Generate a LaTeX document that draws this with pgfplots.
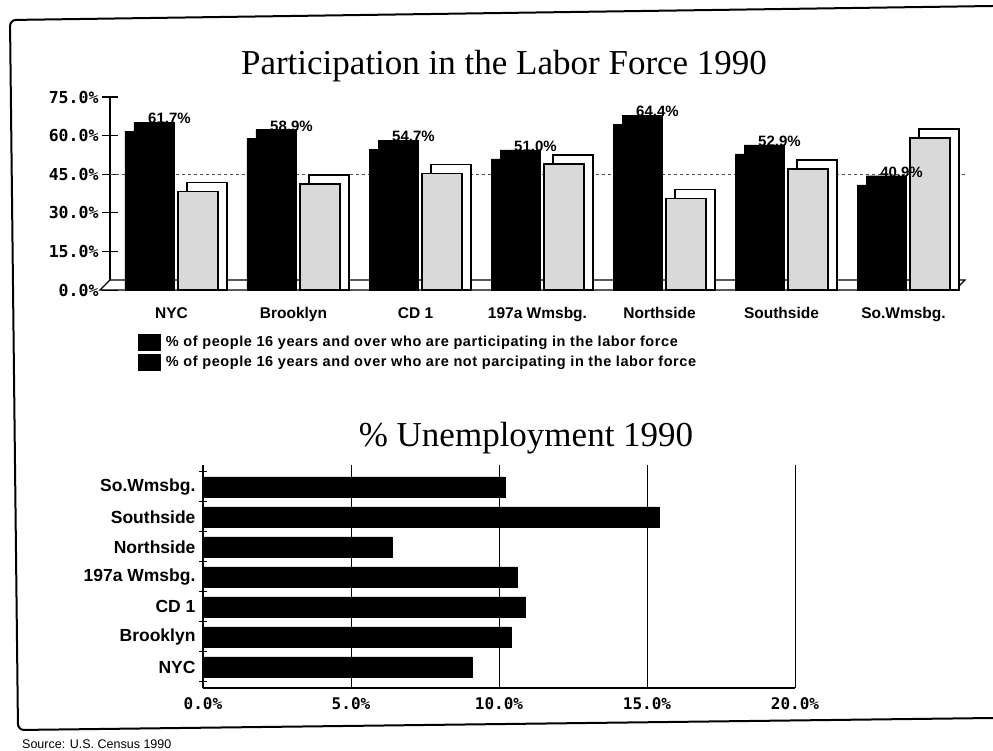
\documentclass[border=0pt]{standalone}
\usepackage{fontspec}
\setmainfont{Liberation Serif}
\newfontfamily\sansf{Liberation Sans}
\newfontfamily\legf{Liberation Sans}[LetterSpace=4]
\newfontfamily\monof{DejaVu Sans Mono}
\usepackage{pgfplots}
\usepackage{pgfplotstable}
\pgfplotsset{compat=1.18}

% participation (p) and non-participation (q), percent
\pgfplotstableread{
x p q
0 61.7 38.3
1 58.9 41.1
2 54.7 45.3
3 51.0 49.0
4 64.4 35.6
5 52.9 47.1
6 40.9 59.1
}\labor

% unemployment, percent (NYC at bottom)
\pgfplotstableread{
y u
0 9.1
1 10.4
2 10.9
3 10.6
4 6.4
5 15.4
6 10.2
}\unemp

\begin{document}
\begin{tikzpicture}
\path[use as bounding box] (0pt,0pt) rectangle (993pt,750pt);

% page frame
\draw[line width=2pt, rounded corners=6pt] (993pt,32pt) -- (18pt,20pt) -- (10pt,730pt) -- (993pt,744pt);

\node[anchor=base, font=\fontsize{35}{35}\selectfont] at (504pt,675pt) {Participation in the Labor Force 1990};
\node[anchor=base, font=\fontsize{35}{35}\selectfont] at (526pt,303pt) {\% Unemployment 1990};
\node[anchor=base west, inner sep=0pt, font=\sansf\fontsize{12.5}{12.5}\selectfont] at (22pt,2pt) {Source: U.S. Census 1990};

% ---- top: participation ----
\begin{axis}[
  at={(110pt,460pt)}, anchor=south west,
  scale only axis, width=855pt, height=193pt,
  xmin=-0.504, xmax=6.504, ymin=0, ymax=75,
  clip=false,
  /pgf/number format/assume math mode=true,
  axis x line*=bottom, axis y line*=left,
  x axis line style={draw=none},
  y axis line style={line width=1.5pt},
  xtick={0,...,6},
  xticklabels={NYC,Brooklyn,CD 1,197a Wmsbg.,Northside,Southside,So.Wmsbg.},
  xtick style={draw=none},
  xticklabel style={font=\sansf\bfseries\fontsize{15.5}{15.5}\selectfont, yshift=-6pt},
  ytick={0,15,...,75},
  yticklabel={\pgfmathprintnumber[fixed,fixed zerofill,precision=1]{\tick}\%},
  yticklabel style={font=\monof\bfseries\fontsize{16.5}{16.5}\selectfont},
  tick align=center, major tick length=16pt,
  ytick style={black, line width=1.2pt},
  legend style={at={(0.032,-0.225)}, anchor=north west, draw=none, fill=none,
    font=\legf\bfseries\fontsize{14.5}{14.5}\selectfont, row sep=4pt, inner sep=0pt,
    nodes={inner xsep=6pt}},
  legend cell align=left,
]
  % floor
  \addplot[forget plot, fill=white, draw=black, line width=1.2pt]
    coordinates {(-0.586,0) (6.422,0) (6.504,3.9) (-0.504,3.9)} -- cycle;
  % back-wall gridline
  \addplot[forget plot, dashed, black!70, line width=0.8pt]
    coordinates {(-0.504,45) (6.504,45)};

  % participating (black, with depth)
  \addplot[forget plot, ybar, bar width=40pt, bar shift=-17.5pt, fill=black, draw=black,
    point meta=explicit,
    nodes near coords={\pgfmathprintnumber[fixed,fixed zerofill,precision=1]{\pgfplotspointmeta}\%},
    nodes near coords style={font=\sansf\bfseries\fontsize{15}{15}\selectfont, anchor=south, xshift=-2pt, yshift=-3pt, inner sep=1pt}]
    table[x=x, y expr=\thisrow{p}+3.5, meta=p] {\labor};
  \addplot[forget plot, ybar, bar width=40pt, bar shift=-26.5pt, fill=black, draw=black]
    table[x=x, y=p] {\labor};

  % not participating (grey, with depth)
  \addplot[forget plot, ybar, bar width=40pt, bar shift=35.5pt, fill=white, draw=black, line width=1.5pt]
    table[x=x, y expr=\thisrow{q}+3.5] {\labor};
  \addplot[forget plot, ybar, bar width=40pt, bar shift=26.5pt, fill=gray!30, draw=black, line width=1.5pt]
    table[x=x, y=q] {\labor};

  \addlegendimage{legend image code/.code={\fill[black] (0pt,-8pt) rectangle (22pt,8pt);}}
  \addlegendentry{\% of people 16 years and over who are participating in the labor force}
  \addlegendimage{legend image code/.code={\fill[black] (0pt,-8pt) rectangle (22pt,8pt);}}
  \addlegendentry{\% of people 16 years and over who are not parcipating in the labor force}
\end{axis}

% ---- bottom: unemployment ----
\begin{axis}[
  at={(203pt,62pt)}, anchor=south west,
  scale only axis, width=592pt, height=223pt,
  xmin=0, xmax=20, ymin=-0.7, ymax=6.73,
  /pgf/number format/assume math mode=true,
  axis x line*=bottom, axis y line*=left,
  axis line style={line width=1.2pt},
  xtick={0,5,...,20},
  xticklabel={\pgfmathprintnumber[fixed,fixed zerofill,precision=1]{\tick}\%},
  xticklabel style={font=\monof\bfseries\fontsize{16}{16}\selectfont, yshift=-6pt},
  xtick style={draw=none},
  xmajorgrids, grid style={black, line width=1pt},
  ytick={0,...,6},
  yticklabels={NYC,Brooklyn,CD 1,197a Wmsbg.,Northside,Southside,So.Wmsbg.},
  yticklabel style={font=\sansf\bfseries\fontsize{17.5}{17.5}\selectfont, xshift=-4pt},
  major tick length=0pt,
  minor ytick={-0.5,0.5,...,6.5},
  minor tick length=8pt, tick align=center,
  minor tick style={black, line width=1pt},
]
  \addplot[xbar, bar shift=0pt, bar width=20pt, fill=black, draw=black]
    table[x=u, y=y] {\unemp};
\end{axis}
\end{tikzpicture}
\end{document}
